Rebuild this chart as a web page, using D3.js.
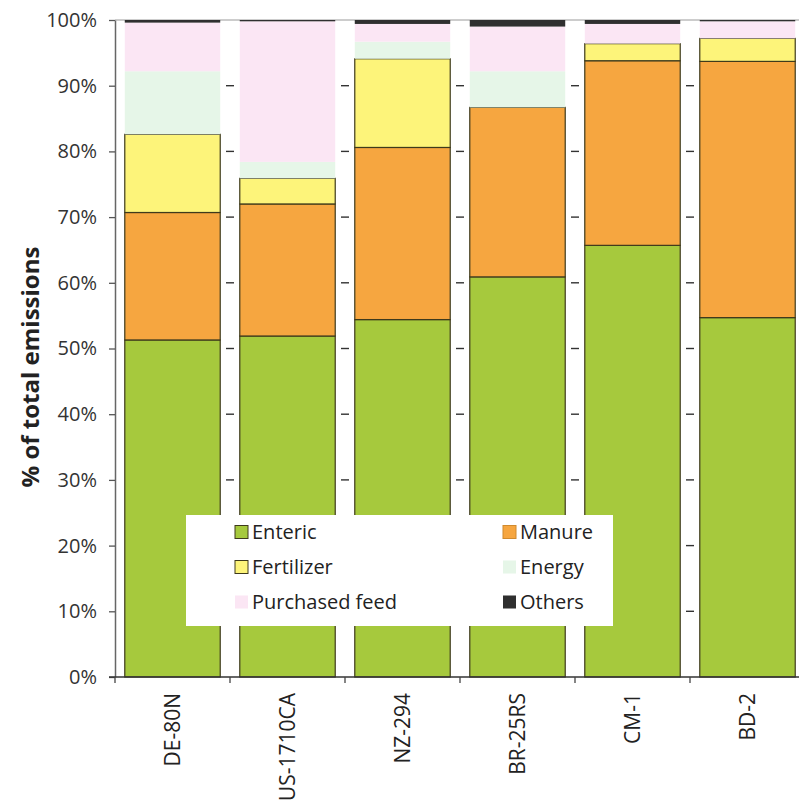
<!DOCTYPE html>
<html>
<head>
<meta charset="utf-8">
<script src="https://cdn.jsdelivr.net/npm/d3@7"></script>
<style>
  html, body { margin: 0; padding: 0; background: #fff; }
  svg { display: block; font-family: "Open Sans", "Noto Sans", sans-serif; }
</style>
</head>
<body>
<svg id="chart" width="799" height="804"></svg>
<script>
// ---- data (percent of total emissions) ----
const categories    = ["DE-80N", "US-1710CA", "NZ-294", "BR-25RS", "CM-1", "BD-2"];
const enteric       = [51.3, 51.9, 54.4, 60.9, 65.7, 54.7];
const manure        = [19.4, 20.1, 26.2, 25.8, 28.1, 39.0];
const fertilizer    = [11.9,  3.9, 13.5,  0.0,  2.6,  3.5];
const energy        = [ 9.6,  2.5,  2.6,  5.5,  0.0,  0.0];
const purchasedFeed = [ 7.4, 21.4,  2.7,  6.8,  3.0,  2.6];
const others        = [ 0.4,  0.2,  0.6,  1.0,  0.6,  0.2];
const seriesNames   = ["Enteric", "Manure", "Fertilizer", "Energy", "Purchased feed", "Others"];
const yTicks        = [0, 10, 20, 30, 40, 50, 60, 70, 80, 90, 100];
const yTitle        = "% of total emissions";

// ---- styles ----
const colors  = {"Enteric": "#a6c93d", "Manure": "#f6a640", "Fertilizer": "#fdf47a",
                 "Energy": "#e6f6e8", "Purchased feed": "#fbe6f4", "Others": "#2f2f2f"};
const stroked = {"Enteric": true, "Manure": true, "Fertilizer": true,
                 "Energy": false, "Purchased feed": false, "Others": false};
const edge = "#3e3a1c";

const seriesValues = [enteric, manure, fertilizer, energy, purchasedFeed, others];
const table = categories.map((c, i) => {
  const row = {category: c};
  seriesNames.forEach((s, k) => row[s] = seriesValues[k][i]);
  return row;
});

const svg = d3.select("#chart");
const plotLeft = 115, plotRight = 805, plotTop = 20, plotBottom = 677;

const x = d3.scaleBand().domain(categories).range([plotLeft, plotRight])
  .paddingInner(0.17).paddingOuter(0.085);
const y = d3.scaleLinear().domain([0, 100]).range([plotBottom, plotTop]);

const stack = d3.stack().keys(seriesNames)(table);

// top reference line at 100%
svg.append("line")
  .attr("x1", plotLeft).attr("x2", 799).attr("y1", y(100)).attr("y2", y(100))
  .attr("stroke", "#9a9a9a").attr("stroke-width", 1);

// bars
const layers = svg.append("g").selectAll("g").data(stack).join("g")
  .attr("fill", d => colors[d.key]);
layers.selectAll("rect").data(d => d.map(v => ({key: d.key, v})).filter(o => o.v[1] - o.v[0] > 0))
  .join("rect")
  .attr("x", d => x(d.v.data.category))
  .attr("width", x.bandwidth())
  .attr("y", d => y(d.v[1]))
  .attr("height", d => y(d.v[0]) - y(d.v[1]))
  .attr("stroke", d => stroked[d.key] ? edge : "none")
  .attr("stroke-width", 1.2);

// short dashes between bars at each grid level
const boundaries = categories.map(c => x(c) - x.step() * x.paddingOuter()).slice(1)
  .concat([plotRight]);
const gridLevels = yTicks.filter(t => t > 0 && t < 100);
const dashG = svg.append("g");
boundaries.forEach(b => {
  dashG.append("g").selectAll("line").data(gridLevels).join("line")
    .attr("x1", b - 4).attr("x2", b + 4)
    .attr("y1", d => y(d)).attr("y2", d => y(d))
    .attr("stroke", "#333").attr("stroke-width", 1.4);
});

// y axis
const yAxis = svg.append("g").attr("transform", `translate(${plotLeft},0)`)
  .call(d3.axisLeft(y).tickValues(yTicks).tickFormat(d => d + "%")
    .tickSizeInner(6).tickSizeOuter(0).tickPadding(12));
yAxis.select(".domain").attr("stroke", "#666").attr("stroke-width", 1.5);
yAxis.selectAll(".tick line").attr("stroke", "#555").attr("stroke-width", 1.3);
yAxis.selectAll(".tick text")
  .attr("fill", "#333").style("font-size", "20px")
  .style("font-family", "'Open Sans', sans-serif");

// x axis
const xAxis = svg.append("g").attr("transform", `translate(0,${plotBottom})`)
  .call(d3.axisBottom(x).tickSizeInner(0).tickSizeOuter(0).tickPadding(0));
xAxis.select(".domain").attr("stroke", "#333").attr("stroke-width", 1.5)
  .attr("d", `M${plotLeft - 6},0H799`);
xAxis.selectAll(".tick text")
  .attr("transform", "rotate(-90)")
  .attr("x", -16).attr("y", 0).attr("dy", "0.35em")
  .style("text-anchor", "end")
  .attr("fill", "#222").style("font-size", "21px")
  .style("font-family", "'Open Sans', sans-serif");
const xTickPos = [plotLeft].concat(boundaries.slice(0, -1));
svg.append("g").selectAll("line").data(xTickPos).join("line")
  .attr("x1", d => d).attr("x2", d => d)
  .attr("y1", plotBottom).attr("y2", plotBottom + 6)
  .attr("stroke", "#444").attr("stroke-width", 1.3);

// y title
svg.append("text")
  .attr("transform", `translate(39,${367}) rotate(-90)`)
  .attr("text-anchor", "middle")
  .attr("fill", "#222")
  .style("font-weight", "bold").style("font-size", "24px")
  .text(yTitle);

// legend
const lg = svg.append("g");
lg.append("rect").attr("x", 186).attr("y", 515).attr("width", 427).attr("height", 111)
  .attr("fill", "#fff");
const legendCols = [235, 503];
const legendRows = [532, 567, 602];
seriesNames.forEach((s, i) => {
  const cx = legendCols[i % 2], cy = legendRows[Math.floor(i / 2)];
  lg.append("rect").attr("x", cx).attr("y", cy - 6.5).attr("width", 13).attr("height", 13)
    .attr("fill", colors[s])
    .attr("stroke", (s === "Enteric" || s === "Fertilizer") ? edge : (s === "Manure" ? "#d08a2e" : "none"))
    .attr("stroke-width", 1);
  lg.append("text").attr("x", cx + 17).attr("y", cy).attr("dy", "0.35em")
    .attr("fill", "#222").style("font-size", "20px")
    .text(s);
});
</script>
</body>
</html>
